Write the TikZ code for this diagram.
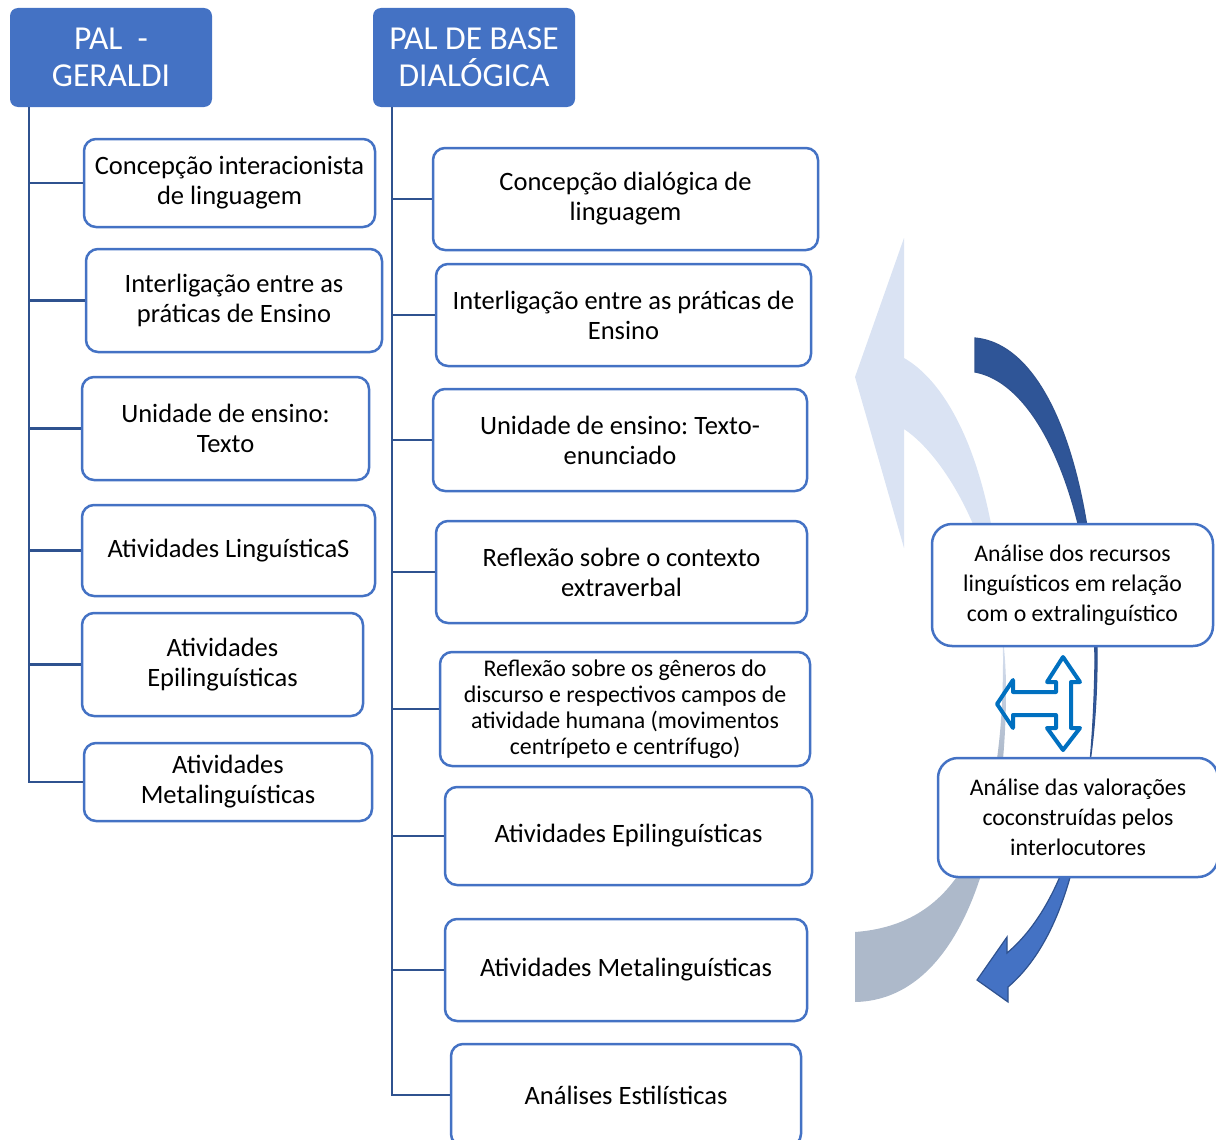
\documentclass[tikz,border=0pt]{standalone}
\usepackage{fontspec}
\setmainfont{Carlito}
\frenchspacing
\definecolor{hdrblue}{HTML}{4472C4}
\definecolor{trunkblue}{HTML}{2F528F}
\definecolor{ribblue}{HTML}{DAE3F3}
\definecolor{ribgray}{HTML}{ADB9CA}
\definecolor{arrdark}{HTML}{2F5597}
\definecolor{crossblue}{HTML}{0070C0}
\pgfdeclareverticalshading{ribbon}{100bp}{color(0bp)=(ribgray); color(41bp)=(ribgray); color(49bp)=(ribblue); color(100bp)=(ribblue)}
\pgfdeclareverticalshading{swoop}{100bp}{color(0bp)=(hdrblue); color(45bp)=(hdrblue); color(50bp)=(arrdark); color(100bp)=(arrdark)}

\begin{document}
\begin{tikzpicture}[x=1pt, y=-1pt,
    hdr/.style={fill=hdrblue, rounded corners=8pt, text=white, align=center,
        font=\fontsize{33.5}{37}\selectfont, minimum width=202pt, minimum height=99pt},
    box/.style={draw=hdrblue, line width=2.5pt, fill=white, rounded corners=12pt,
        align=center, inner sep=2pt, font=\fontsize{26.5}{30}\selectfont},
    sidebox/.style={box, font=\fontsize{23.8}{30}\selectfont, rounded corners=20pt},
    trunk/.style={draw=trunkblue, line width=2.5pt}]
\useasboundingbox (0,0) rectangle (1216,1140);

% light ribbon arrow
\path[shading=ribbon] (855,932) .. controls (950,925) and (1003,850) .. (1003,660)
    .. controls (1003,500) and (960,390) .. (904,358)
    -- (904,238) -- (855,377) -- (904,548) -- (904,429)
    .. controls (950,460) and (1006,560) .. (1006,690)
    .. controls (1006,850) and (960,1000) .. (855,1002) -- cycle;
% dark swoop arrow
\path[shading=swoop, draw=trunkblue, line width=1.2pt] (975,338)
    .. controls (1050,345) and (1095,480) .. (1097,650)
    .. controls (1098,780) and (1070,900) .. (1007,953)
    -- (1007,937) -- (977,980) -- (1008,1002) -- (1008,987)
    .. controls (1075,930) and (1093,800) .. (1095,660)
    .. controls (1093,520) and (1045,385) .. (975,372) -- cycle;

% headers
\node[hdr] (geraldi) at (111,57.5) {PAL\ \ -\\GERALDI};
\node[hdr] (dialogica) at (474,57.5) {PAL DE BASE\\DIALÓGICA};
\coordinate (lt) at ([xshift=19pt]geraldi.south west);
\coordinate (rt) at ([xshift=19pt]dialogica.south west);

% left column
\node[box, minimum width=291pt, minimum height=88pt] (l1) at (229.5,183) {Concepção interacionista\\de linguagem};
\node[box, minimum width=296pt, minimum height=103pt] (l2) at (234,300.5) {Interligação entre as\\práticas de Ensino};
\node[box, minimum width=287pt, minimum height=103pt] (l3) at (225.5,428.5) {Unidade de ensino:\\Texto};
\node[box, minimum width=293pt, minimum height=91pt] (l4) at (228.5,550.5) {Atividades LinguísticaS};
\node[box, minimum width=281pt, minimum height=103pt] (l5) at (222.5,664.5) {Atividades\\Epilinguísticas};
\node[box, minimum width=288pt, minimum height=78pt] (l6) at (228,782) {Atividades\\Metalinguísticas};

% right column
\node[box, minimum width=385pt, minimum height=102pt] (r1) at (625.5,199) {Concepção dialógica de\\linguagem};
\node[box, minimum width=375pt, minimum height=102pt] (r2) at (623.5,315) {Interligação entre as práticas de\\Ensino};
\node[box, minimum width=374pt, minimum height=102pt] (r3) at (620,440) {Unidade de ensino: Texto-\\enunciado};
\node[box, minimum width=371pt, minimum height=102pt] (r4) at (621.5,572) {Reflexão sobre o contexto\\extraverbal};
\node[box, minimum width=370pt, minimum height=114pt, font=\fontsize{23.9}{26}\selectfont] (r5) at (625,709)
    {Reflexão sobre os gêneros do\\discurso e respectivos campos de\\atividade humana (movimentos\\centrípeto e centrífugo)};
\node[box, minimum width=367pt, minimum height=98pt] (r6) at (628.5,836) {Atividades Epilinguísticas};
\node[box, minimum width=362pt, minimum height=102pt] (r7) at (626,970) {Atividades Metalinguísticas};
\node[box, minimum width=350pt, minimum height=102pt] (r8) at (626,1095) {Análises Estilísticas};

\foreach \b in {l1,l2,l3,l4,l5,l6}
{
    \draw[trunk] (lt) |- (\b.west);
}
\foreach \b in {r1,r2,r3,r4,r5,r6,r7,r8}
{
    \draw[trunk] (rt) |- (\b.west);
}

% side boxes
\node[sidebox, minimum width=281pt, minimum height=122pt] (recursos) at (1072.5,585)
    {Análise dos recursos\\linguísticos em relação\\com o extralinguístico};
\node[sidebox, minimum width=280pt, minimum height=119pt] (valoracoes) at (1078,817.5)
    {Análise das valorações\\coconstruídas pelos\\interlocutores};

% three-way arrow
\draw[crossblue, line width=4pt, line join=round] (1063,657) -- (1080,682) -- (1071,682) -- (1071,728)
    -- (1080,728) -- (1063,750) -- (1047,728) -- (1056,728) -- (1056,715) -- (1013,715)
    -- (1013,728) -- (997,704) -- (1013,680) -- (1013,692) -- (1056,692) -- (1056,682)
    -- (1047,682) -- cycle;
\end{tikzpicture}
\end{document}
